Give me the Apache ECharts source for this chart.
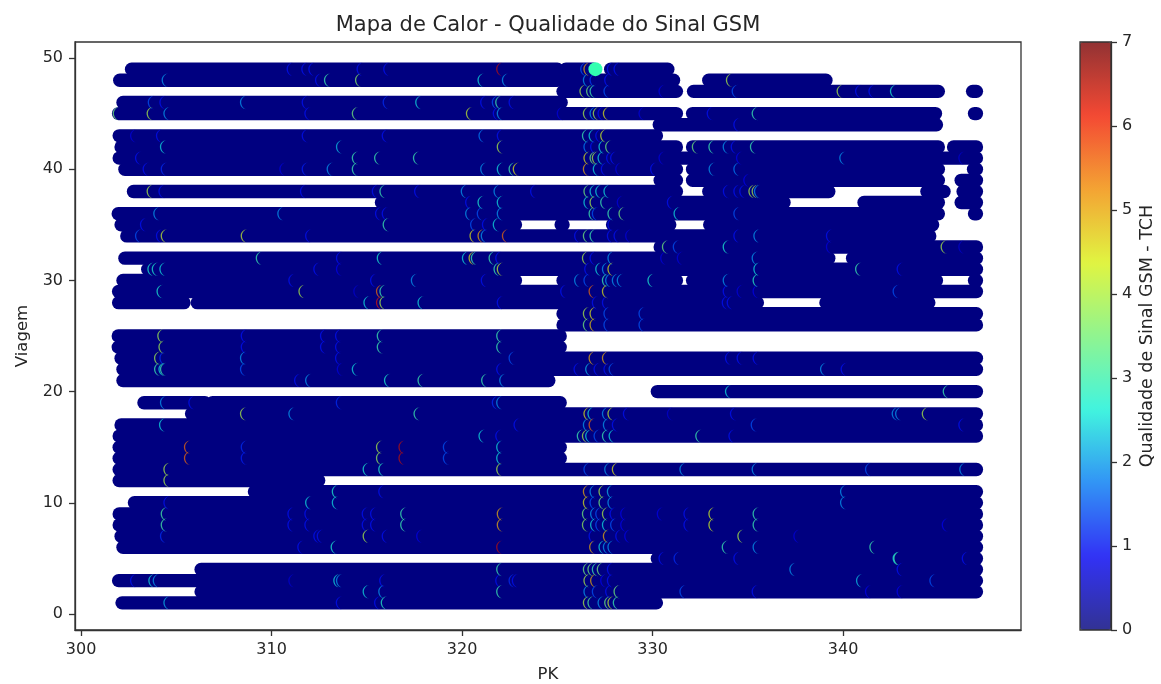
<!DOCTYPE html>
<html><head><meta charset="utf-8">
<style>html,body{margin:0;padding:0;background:#fff}#c{width:1161px;height:684px}</style>
<script src="https://cdn.jsdelivr.net/npm/echarts@6/dist/echarts.min.js"></script>
</head><body><div id="c"></div>
<script>
const chartTitle = 'Mapa de Calor - Qualidade do Sinal GSM';
const xTicks = [300, 310, 320, 330, 340];
const yTicks = [0, 10, 20, 30, 40, 50];
// [trip, PK from, PK to]
const trackSegments = [
[49,302.65,325],[49,325.45,326.9],[49,327.8,330.8],
[48,302.03,325],[48,325.3,331.1],[48,332.95,339.1],
[47,325.3,331.25],[47,332.15,345],[47,346.8,347],
[46,302.2,325.2],
[45,301.97,331.25],[45,332.1,344.85],[45,346.9,347],
[44,330.35,344.9],
[43,302,330.2],
[42,302.1,331.25],[42,332.1,345],[42,345.8,347],
[41,302,347],
[40,302.3,331.25],[40,332.1,345],[40,346.85,347],
[39,330.4,331.25],[39,332.1,345],[39,346.2,347],
[38,302.75,331.25],[38,332.95,339.25],[38,344.4,345.3],[38,346.3,347],
[37,315.77,336.9],[37,341.1,345],[37,346.2,347],
[36,301.95,345],[36,346.9,347],
[35,302.1,322.8],[35,325.2,325.3],[35,327.9,330.9],[35,333,344.7],
[34,302.4,344.55],
[33,330.4,347],
[32,302.3,339.25],[32,340.5,347],
[31,303.5,347],
[30,302.2,322.8],[30,325.3,331.25],[30,332.1,344.9],[30,346.9,347],
[29,301.97,347],
[28,301.97,305.4],[28,306.1,335.5],[28,339.1,344.5],
[27,325.3,347],[26,325.3,347],
[25,301.95,325.15],[24,301.95,325.15],
[23,302.1,347],[22,302.2,347],
[21,302.2,324.55],
[20,330.25,347],
[19,303.3,306.5],[19,306.9,325.15],
[18,305.8,347],[17,302.1,347],[16,302,347],
[15,302,325.15],[14,302,325.15],
[13,302,347],
[12,302,312.47],
[11,309.1,347],[10,302.8,347],[9,302,347],[8,302,347],[7,302.1,347],[6,302.2,347],
[5,330.25,347],[4,306.3,347],[3,301.97,347],[2,306.3,347],
[1,302.15,330.2]
];
// [PK, trip, TCH] — west section
const readingsWest = [
[311.13,49,1],[311.9,49,1],[312.27,49,1],[314.8,49,1],[316.2,49,1],
[304.57,48,2],[312.62,48,1],[313.09,48,3],[314.72,48,3.7],
[303.84,46,1.5],[304.45,46,1],[308.68,46,2],[311.92,46,1],[316.17,46,1.2],
[302,45,3.5],[303.78,45,4],[304.66,45,2],[312.06,45,1],[314.55,45,3.5],
[302.91,43,0.7],[304.27,43,1],[311.92,43,1],[316.12,43,1],
[304.48,42,2.5],[313.72,42,2.3],
[303.17,41,1],[314.55,41,3],[315.72,41,3],
[303.57,40,1],[304.52,40,1.2],[310.75,40,0.7],[311.92,40,1.1],[313.23,40,2],[314.55,40,3],
[303.78,38,4],[304.4,38,1],[311.83,38,1],[315.6,38,1],[316,38,3],
[304.13,36,2],[310.64,36,2],[315.77,36,1],[316.12,36,1],
[303.43,35,1],[316.17,35,3],
[303.17,34,1.5],[304.27,34,1],[304.52,34,4.2],[308.72,34,4.2],[312.1,34,1],
[309.51,32,3],[313.72,32,1],[315.86,32,2.7],
[303.82,31,2.7],[304.05,31,2.7],[304.45,31,2.5],[312.53,31,1],[313.72,31,0.8],
[311.22,30,1],[315.51,30,1],
[304.3,29,2.7],[311.75,29,4],[314.63,29,0.6],[315.82,29,5.5],[316,29,3],
[315.16,28,2.5],[315.82,28,6.3],[316,28,4],
[304.34,25,3.9],[308.72,25,1],[312.88,25,1],[313.67,25,1],[315.86,25,3],
[304.4,24,3.9],[308.72,24,1],[312.88,24,1],[313.67,24,1],[315.86,24,3],
[304.17,23,3.9],[304.45,23,1.2],[308.68,23,2],[313.67,23,1],
[304.17,22,3],[304.4,22,2.5],[304.48,22,3],[308.68,22,1.5],[313.76,22,0.7],[314.55,22,2.5],
[311.52,21,1],[312.1,21,2],[316.24,21,2.7],
[304.48,19,2],[305.97,19,1],[313.71,19,1.2],
[308.68,18,4],[311.22,18,2],
[304.43,17,2.5],
[305.74,15,5.5],[308.72,15,1.2],[315.82,15,4],[317,15,6.5],
[305.74,14,5.5],[308.72,14,1.1],[315.82,14,3.8],[317,14,6.5],
[304.66,13,4],[315.12,13,2.7],[315.94,13,2.7],
[304.66,12,4],
[313.5,11,2.7],[315.94,11,1],
[304.66,10,1],[312.1,10,2.5],[313.5,10,2.5],
[304.52,9,3.1],[311.17,9,1],[312.06,9,1],[315.07,9,1],[315.51,9,1],
[304.52,8,3.1],[311.17,8,1],[312.06,8,1],[315.07,8,1],[315.51,8,1],
[304.48,7,1.2],[312.53,7,1],[312.71,7,1],[315.12,7,4],[316.12,7,1],
[311.69,6,1],[313.44,6,2.7],
[302.91,3,1],[303.87,3,2.5],[304.1,3,2],[311.22,3,0.6],[313.58,3,2.5],[313.72,3,2],[315.99,3,1],
[315.12,2,2.5],[315.94,2,2],
[304.66,1,2.2],[313.71,1,1],[315.72,1,1],[316.07,1,2.8]
];
// centre section
const readingsCentre = [
[322.13,49,6.5],[326.54,49,1.5],[326.71,49,5],[327.94,49,1],[328.29,49,1],
[321.15,48,2.5],[322.43,48,2],[326.68,48,2],[327.03,48,1.3],[327.8,48,1],
[326.5,47,4],[326.85,47,3.5],[327.03,47,3],[327.76,47,1.5],[330.65,47,0.7],
[317.88,46,2.5],[321.29,46,1],[321.9,46,1.5],[322.08,46,3],[322.78,46,1],
[320.54,45,4.2],[321.95,45,1],[322.16,45,2],[325.31,45,0.7],[326.68,45,4],[327.03,45,2],[327.2,45,4],[327.45,45,1],[327.73,45,4.5],[329.6,45,0.7],
[321.2,43,1.8],[322.16,43,1],[326.63,43,3],[326.98,43,2.5],[327.33,43,1],[327.59,43,4.3],
[322.16,42,4],[326.71,42,1.8],[327.06,42,1],[327.5,42,2.5],[327.85,42,3.5],[332.4,42,3.5],
[317.76,41,3],[326.71,41,4.5],[327.03,41,3.5],[327.15,41,4],[327.45,41,2.5],[327.9,41,1],[328.11,41,1],[330.65,41,0.7],
[321.29,40,2],[322.16,40,2.5],[322.78,40,3],[323,40,4.5],[326.68,40,5],[327.2,40,2.5],[327.62,40,1],[328.38,40,0.7],[330.21,40,1],
[317.82,38,1],[320.27,38,2],[321.99,38,2],[323.91,38,1],[326.71,38,3.5],[327.03,38,2.5],[327.33,38,2.5],[327.76,38,2.5],
[320.5,37,1],[321.15,37,2.7],[322.16,37,2.5],[326.71,37,2.5],[327.03,37,4],[327.59,37,3],[328.46,37,0.7],[331.09,37,1],
[320.5,36,2],[321.11,36,1.5],[322.16,36,2],[326.98,36,3],[327.15,36,1.5],[327.97,36,3],[328.55,36,3.5],[331.44,36,2.5],
[320.76,35,1.5],[321.38,35,1],[321.95,35,2.5],[327.97,35,1],
[320.73,34,4.5],[321.15,34,5],[321.32,34,2],[322.43,34,5.5],[326.22,34,1],[326.68,34,3.5],[327.03,34,3],[327.94,34,1],[328.29,34,1],[328.9,34,0.7],
[330.83,33,3.5],[331.4,33,1.5],
[320.33,32,2.5],[320.68,32,4.5],[320.8,32,3],[321.73,32,3],[322.08,32,1],[326.63,32,4],[327.03,32,1],[327.97,32,2],[330.74,32,0.7],[331.61,32,0.7],
[321.99,31,3],[322.16,31,4.2],[326.75,31,1],[327.33,31,2.5],[327.68,31,2],[327.97,31,4.5],
[317.65,30,2],[321.32,30,1],[326.22,30,2],[326.71,30,1.5],[327.68,30,3],[327.85,30,2],[328.2,30,2],[328.46,30,2],[330.07,30,2.7],
[325.49,29,1],[326.98,29,5.5],[327.68,29,4.5],
[318,28,2.5],[322.16,28,1],[327.15,28,1],[327.68,28,1],
[326.68,27,4],[327.03,27,4.5],[327.76,27,1.5],[329.6,27,1.5],
[326.68,26,3.5],[327.03,26,4.8],[327.76,26,1.5],[329.6,26,1.5],
[322.13,25,3],[322.13,24,3],
[322.78,23,1.5],[326.98,23,5],[327.68,23,5],
[322.13,22,1],[326.19,22,1],[326.8,22,2.2],[327.24,22,1],[327.76,22,1],[328.03,22,1.5],
[318,21,3],[321.34,21,3],[322.29,21,2],
[321.9,19,1.2],[322.13,19,2],
[317.79,18,3],[326.71,18,4.5],[326.92,18,2.5],[327.68,18,2],[327.97,18,4.2],[328.78,18,1],[331.09,18,0.6],
[323.04,17,1],[326.68,17,2],[326.98,17,5.5],[327.73,17,2],[328.2,17,1],
[321.2,16,2.5],[322.08,16,1],[326.36,16,3],[326.63,16,4],[326.8,16,2.5],[327.24,16,1.5],[327.68,16,3],[328.03,16,2.5],[332.58,16,3],
[319.33,15,1.5],[322.13,15,2.5],[319.33,14,1.5],[322.13,14,2.5],
[322.13,13,4],[326.71,13,1.5],[327.8,13,2],[328.2,13,4.5],[331.75,13,2],
[326.68,11,5],[327.03,11,2],[327.5,11,4],[327.94,11,2.2],
[326.68,10,4.5],[327.03,10,1.5],[327.5,10,3.5],[327.97,10,2],
[317.09,9,3],[322.16,9,5],[326.63,9,3.5],[327.06,9,2],[327.33,9,1.5],[327.68,9,4],[328.08,9,1],[328.64,9,0.8],[330.56,9,0.8],[331.96,9,1],
[317.09,8,3],[322.16,8,5],[326.63,8,3.8],[327.06,8,2.5],[327.33,8,1.5],[327.68,8,2.5],[328.11,8,1.5],[328.64,8,0.8],[331.96,8,1],
[317.93,7,0.8],[326.98,7,1],[327.73,7,5],[328.38,7,1],[328.85,7,0.8],
[322.13,6,6.5],[327.01,6,5],[327.5,6,2.5],[327.73,6,2],[327.97,6,2],
[330.65,5,1],[331.44,5,1.2],
[322.13,4,3],[326.68,4,3.5],[326.92,4,3.5],[327.15,4,3],[327.41,4,3.5],[327.94,4,1],
[322.08,3,1],[322.78,3,1.2],[322.95,3,1],[326.71,3,4],[327.06,3,5],[327.59,3,0.8],[327.94,3,1],
[322.13,2,3],[326.71,2,2],[327.15,2,1.5],[327.85,2,1],[328.29,2,3.5],[331.75,2,1.5],
[326.68,1,4],[326.92,1,3.2],[327.45,1,2],[327.8,1,3.5],[327.97,1,4.2],[328.25,1,3]
];
// east section
const readingsEast = [
[334.19,48,4],
[334.49,47,1.5],[340,47,4],[340.97,47,1],[341.67,47,1],[342.8,47,2.7],
[333.18,45,1],[335.54,45,3],[334.58,44,1],
[333.27,42,3],[334.02,42,2],[334.44,42,1],[335.45,42,3],
[334.72,41,0.8],[340.14,41,2],[346.39,41,0.6],
[333.28,40,2],[334.58,40,1.8],
[335.1,39,0.8],
[334.03,38,1],[334.58,38,1],[334.89,38,1],[335.37,38,4],[335.54,38,4],[335.66,38,2],
[334.58,36,1.5],
[334.58,34,1],[335.63,34,2],[339.44,34,1],
[334.02,33,2.7],[339.44,33,0.7],[345.46,33,4],[346.39,33,0.6],
[335.54,32,2],
[335.63,31,2.5],[340.97,31,3],[343.15,31,1],
[334.02,30,2],[335.59,30,2.8],
[334.02,29,1],[334.75,29,0.7],[335.59,29,0.8],[342.94,29,1.5],
[333.97,28,1],[334.23,28,1],
[334.14,23,1],[334.75,23,1],[335.59,23,1],
[339.13,22,2],[340.21,22,1],
[334.14,20,2.5],[345.57,20,3],
[334.4,18,1],[342.89,18,2],[343.07,18,2],[344.47,18,4],
[335.49,17,1.5],[346.39,17,1],[334.32,16,1],
[335.54,13,2],[341.49,13,1.5],[346.44,13,2],
[340.18,11,2],[340.18,10,2],
[333.27,9,4.3],[335.59,9,3],
[333.27,8,4.3],[335.59,8,3],[345.52,8,0.8],
[334.79,7,4],[337.73,7,0.7],
[333.97,6,3],[335.59,6,2],[341.72,6,3],
[334.58,5,1],[342.94,5,2.5],[342.98,5,3],[346.57,5,1],
[337.52,4,2],[343.15,4,1],
[341.02,3,2.3],[344.87,3,1.5],
[335.54,2,1],[341.49,2,0.8],[343.15,2,0.8]
];
const fullDots = [[327,49,3.1]];
const jetColors = ['rgba(0,0,127,.76)','rgba(0,0,255,.76)','rgba(0,128,255,.76)','rgba(21,255,225,.76)','rgba(124,255,121,.76)','rgba(230,255,18,.76)','rgba(255,148,0,.76)','rgba(255,30,0,.76)','rgba(127,0,0,.76)'];
const font = 'DejaVu Sans', ink = '#262626', frame = '#333';
const crescent = 'path://M6.5 0C2.9 0 0 2.9 0 6.5C0 10.1 2.9 13 6.5 13C4.2 13 1.3 10.1 1.3 6.5C1.3 2.9 4.2 0 6.5 0Z';

const lines = trackSegments.map(([trip, a, b]) => ({
  type:'line', data:[[a,trip],[b,trip]], showSymbol:false, symbol:'none', silent:true, z:2,
  lineStyle:{color:'#000080', width:13.4, cap:'round', opacity:1}
}));
const hot = {type:'scatter', data:[...readingsWest,...readingsCentre,...readingsEast], symbol:crescent,
  symbolSize:[6.5,13.4], symbolOffset:[-3.3,0], z:3, silent:true, itemStyle:{opacity:0.9}};
const dots = {type:'scatter', data:fullDots, symbol:'circle', symbolSize:14, z:3, silent:true, itemStyle:{color:'#33ffb0',opacity:1}};
const series = [...lines, hot, dots];

const axisCommon = {
  axisLine:{show:true,onZero:false,lineStyle:{color:frame,width:1.3}},
  axisTick:{show:true,length:6,lineStyle:{color:frame,width:1.3}},
  splitLine:{show:false},
  nameTextStyle:{fontFamily:font,fontSize:16.5,color:ink},
  nameLocation:'middle'
};
const labelStyle = {fontFamily:font,fontSize:16,color:ink};
const option = {
  animation:false, backgroundColor:'#fff',
  title:{text:chartTitle,left:543,top:10,textAlign:'center',textStyle:{fontFamily:font,fontSize:21,fontWeight:'normal',color:ink}},
  grid:[
    {left:75,top:42,width:946,height:588,outerBoundsMode:'none',show:true,borderColor:frame,borderWidth:1.3,backgroundColor:'#fff'},
    {left:1080,top:42,width:31,height:588,outerBoundsMode:'none',show:true,borderColor:frame,borderWidth:1.3,backgroundColor:'transparent',z:10}
  ],
  xAxis:[
    {...axisCommon,type:'value',gridIndex:0,min:299.68,max:349.34,name:'PK',nameGap:36,
     axisTick:{...axisCommon.axisTick,customValues:xTicks},
     axisLabel:{...labelStyle,customValues:xTicks,margin:12}},
    {type:'value',gridIndex:1,min:0,max:1,show:false}
  ],
  yAxis:[
    {...axisCommon,type:'value',gridIndex:0,min:-1.44,max:51.44,name:'Viagem',nameGap:44,
     axisTick:{...axisCommon.axisTick,customValues:yTicks},
     axisLabel:{...labelStyle,customValues:yTicks,margin:12}},
    {...axisCommon,type:'value',gridIndex:1,min:0,max:7,interval:1,position:'right',name:'Qualidade de Sinal GSM - TCH',nameGap:27,nameRotate:90,z:11,
     nameTextStyle:{fontFamily:font,fontSize:17.5,color:ink},
     axisLabel:{...labelStyle,margin:11}}
  ],
  visualMap:{type:'continuous',min:0,max:7,dimension:2,seriesIndex:[lines.length],
    inRange:{color:jetColors},left:1080,top:42,itemWidth:31,itemHeight:588,padding:0,text:null,calculable:false,hoverLink:false,textStyle:{fontSize:0}},
  series:[...series,{type:'scatter',xAxisIndex:1,yAxisIndex:1,data:[],silent:true}]
};
option.series.forEach((s,i)=>{ if(i<series.length){s.xAxisIndex=0;s.yAxisIndex=0;} });
const chart = echarts.init(document.getElementById('c'),null,{renderer:'canvas'});
chart.setOption(option);
</script></body></html>
